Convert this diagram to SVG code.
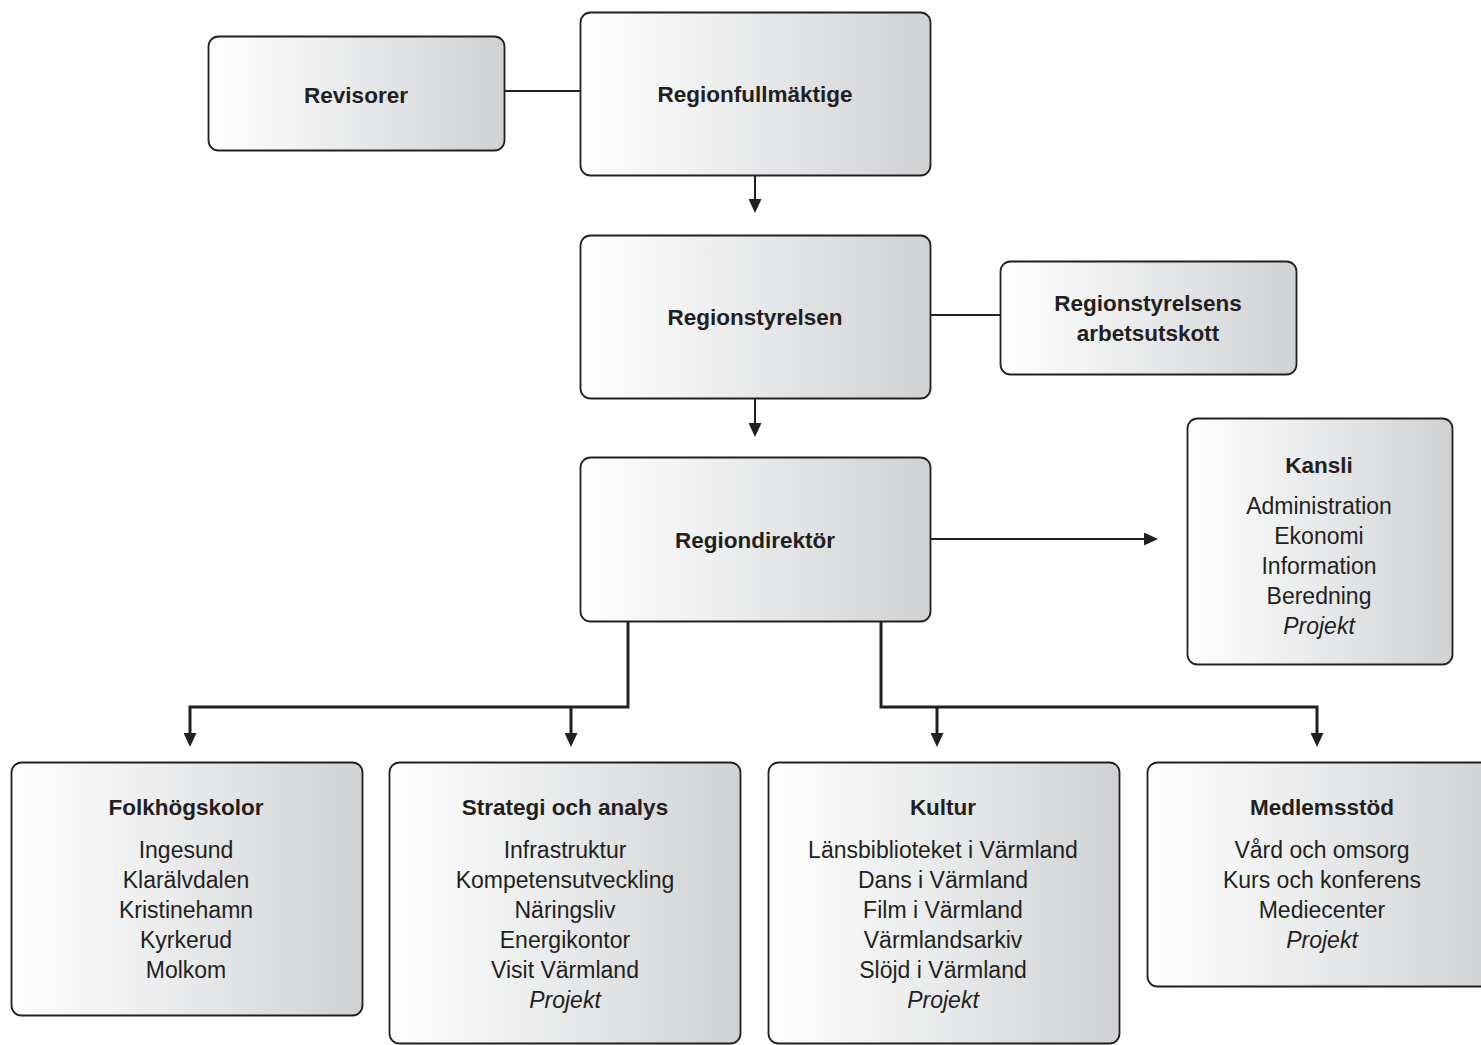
<svg xmlns="http://www.w3.org/2000/svg" width="1481" height="1045" viewBox="0 0 1481 1045">
<defs>
<linearGradient id="g" x1="0" y1="0" x2="1" y2="0">
<stop offset="0" stop-color="#ffffff"/>
<stop offset="0.5" stop-color="#e8e9ea"/>
<stop offset="1" stop-color="#d0d1d3"/>
</linearGradient>
<marker id="ah" viewBox="0 -6.5 14 13" refX="1" refY="0" markerWidth="14" markerHeight="13" markerUnits="userSpaceOnUse" orient="auto">
<path d="M0,-6.5 L14,0 L0,6.5 z" fill="#231f20"/>
</marker>
<style>
.box{fill:url(#g);stroke:#231f20;stroke-width:1.8}
.t{font-family:"Liberation Sans",Arial,sans-serif;font-weight:bold;font-size:22.5px;fill:#231f20;text-anchor:middle}
.i{font-family:"Liberation Sans",Arial,sans-serif;font-size:23px;fill:#231f20;text-anchor:middle}
.p{font-style:italic}
.c{fill:none;stroke:#231f20;stroke-width:2}
.cb{fill:none;stroke:#231f20;stroke-width:3}
</style>
</defs>
<rect width="1481" height="1045" fill="#ffffff"/>
<g id="connectors">
<line class="c" x1="504" y1="91" x2="580" y2="91"/>
<line class="c" x1="755" y1="175" x2="755" y2="200" marker-end="url(#ah)"/>
<line class="c" x1="930" y1="315" x2="1000" y2="315"/>
<line class="c" x1="755" y1="398" x2="755" y2="424" marker-end="url(#ah)"/>
<line class="c" x1="930" y1="539" x2="1145" y2="539" marker-end="url(#ah)"/>
<polyline class="cb" points="628,621 628,707 190,707 190,734" marker-end="url(#ah)"/>
<line class="cb" x1="571" y1="707" x2="571" y2="734" marker-end="url(#ah)"/>
<polyline class="cb" points="881,621 881,707 1317,707 1317,734" marker-end="url(#ah)"/>
<line class="cb" x1="937" y1="707" x2="937" y2="734" marker-end="url(#ah)"/>
</g>
<g id="revisorer">
<rect class="box" x="208.5" y="36.5" width="296" height="114" rx="10"/>
<text class="t" x="356" y="103">Revisorer</text>
</g>
<g id="regionfullmaktige">
<rect class="box" x="580.5" y="12.5" width="350" height="163" rx="10"/>
<text class="t" x="755" y="102">Regionfullmäktige</text>
</g>
<g id="regionstyrelsen">
<rect class="box" x="580.5" y="235.5" width="350" height="163" rx="10"/>
<text class="t" x="755" y="325">Regionstyrelsen</text>
</g>
<g id="arbetsutskott">
<rect class="box" x="1000.5" y="261.5" width="296" height="113" rx="10"/>
<text class="t" x="1148" y="311">Regionstyrelsens</text>
<text class="t" x="1148" y="341">arbetsutskott</text>
</g>
<g id="regiondirektor">
<rect class="box" x="580.5" y="457.5" width="350" height="164" rx="10"/>
<text class="t" x="755" y="548">Regiondirektör</text>
</g>
<g id="kansli">
<rect class="box" x="1187.5" y="418.5" width="265" height="246" rx="10"/>
<text class="t" x="1319" y="473">Kansli</text>
<text class="i" x="1319" y="514">Administration</text>
<text class="i" x="1319" y="544">Ekonomi</text>
<text class="i" x="1319" y="574">Information</text>
<text class="i" x="1319" y="604">Beredning</text>
<text class="i p" x="1319" y="634">Projekt</text>
</g>
<g id="folkhogskolor">
<rect class="box" x="11.5" y="762.5" width="351" height="253" rx="10"/>
<text class="t" x="186" y="815">Folkhögskolor</text>
<text class="i" x="186" y="858">Ingesund</text>
<text class="i" x="186" y="888">Klarälvdalen</text>
<text class="i" x="186" y="918">Kristinehamn</text>
<text class="i" x="186" y="948">Kyrkerud</text>
<text class="i" x="186" y="978">Molkom</text>
</g>
<g id="strategi">
<rect class="box" x="389.5" y="762.5" width="351" height="281" rx="10"/>
<text class="t" x="565" y="815">Strategi och analys</text>
<text class="i" x="565" y="858">Infrastruktur</text>
<text class="i" x="565" y="888">Kompetensutveckling</text>
<text class="i" x="565" y="918">Näringsliv</text>
<text class="i" x="565" y="948">Energikontor</text>
<text class="i" x="565" y="978">Visit Värmland</text>
<text class="i p" x="565" y="1008">Projekt</text>
</g>
<g id="kultur">
<rect class="box" x="768.5" y="762.5" width="351" height="281" rx="10"/>
<text class="t" x="943" y="815">Kultur</text>
<text class="i" x="943" y="858">Länsbiblioteket i Värmland</text>
<text class="i" x="943" y="888">Dans i Värmland</text>
<text class="i" x="943" y="918">Film i Värmland</text>
<text class="i" x="943" y="948">Värmlandsarkiv</text>
<text class="i" x="943" y="978">Slöjd i Värmland</text>
<text class="i p" x="943" y="1008">Projekt</text>
</g>
<g id="medlemsstod">
<rect class="box" x="1147.5" y="762.5" width="351" height="224" rx="10"/>
<text class="t" x="1322" y="815">Medlemsstöd</text>
<text class="i" x="1322" y="858">Vård och omsorg</text>
<text class="i" x="1322" y="888">Kurs och konferens</text>
<text class="i" x="1322" y="918">Mediecenter</text>
<text class="i p" x="1322" y="948">Projekt</text>
</g>
</svg>
